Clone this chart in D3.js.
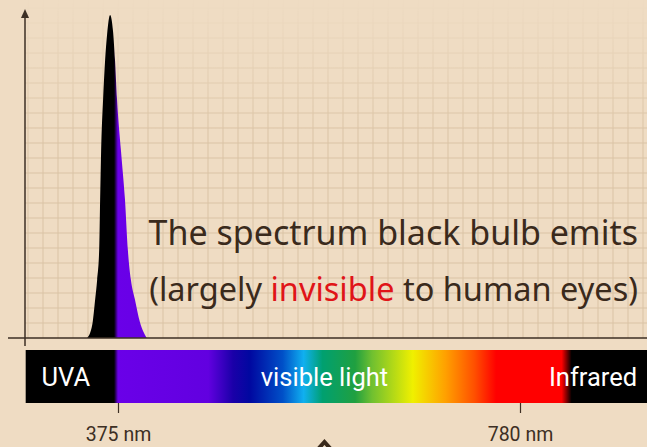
<!DOCTYPE html>
<html lang="en">
<head>
<meta charset="utf-8">
<style>
    html, body { margin: 0; padding: 0; background: #efdcc3; overflow: hidden; }
    svg { display: block; }
</style>
<script src="https://cdn.jsdelivr.net/npm/d3@7"></script>
</head>
<body>
<script>
    // emission curve of the black bulb (wavelength in nm, relative intensity)
    const peakNm = [344, 349, 352, 354, 356, 357, 358, 360, 362, 364, 367, 370, 372, 374, 378, 382, 385, 388, 392, 397, 404];
    const peakValue = [0, 0.04, 0.12, 0.18, 0.27, 0.43, 0.58, 0.74, 0.86, 0.94, 1.0, 0.95, 0.86, 0.74, 0.58, 0.43, 0.27, 0.18, 0.12, 0.05, 0];

    // colour band under the chart
    const spectrumNm = [371, 375, 466, 491, 508, 541, 562, 581, 614, 631, 672, 705, 734, 756, 822, 832];
    const spectrumColor = ["#000000", "#6a00e8", "#6200e0", "#1a00a8", "#0008a0", "#0050c8", "#10b0f0", "#00a070",
                           "#20a040", "#70c030", "#f0f000", "#ffa000", "#ff5000", "#ff0000", "#ff0000", "#000000"];
    const bandNm = [282, 908];

    const tickNm = [375, 780];
    const bandLabels = [
        {text: "UVA", nm: 298, anchor: "start"},
        {text: "visible light", nm: 583, anchor: "middle"},
        {text: "Infrared", nm: 898, anchor: "end"}
    ];

    let w = 647, h = 447;
    let ink = "#3d2f24";

    let svg = d3.select("body").append("svg")
        .attr("width", w)
        .attr("height", h);

    let x = d3.scaleLinear().domain([375, 780]).range([118, 520]);
    let y = d3.scaleLinear().domain([0, 1]).range([338, 15]);

    let defs = svg.append("defs");

    let grad = defs.append("linearGradient")
        .attr("id", "spec")
        .attr("gradientUnits", "userSpaceOnUse")
        .attr("x1", x(bandNm[0])).attr("x2", x(bandNm[1]))
        .attr("y1", 0).attr("y2", 0);
    grad.selectAll("stop")
        .data(spectrumNm)
        .join("stop")
        .attr("offset", d => (d - bandNm[0]) / (bandNm[1] - bandNm[0]))
        .attr("stop-color", (d, i) => spectrumColor[i]);

    // grid fades out towards the top
    let fade = defs.append("linearGradient")
        .attr("id", "fade")
        .attr("gradientUnits", "userSpaceOnUse")
        .attr("x1", 0).attr("x2", 0).attr("y1", 0).attr("y2", 130);
    fade.append("stop").attr("offset", 0).attr("stop-color", "#000");
    fade.append("stop").attr("offset", 1).attr("stop-color", "#fff");
    defs.append("mask").attr("id", "gridmask")
        .append("rect")
        .attr("x", 0).attr("y", 0).attr("width", w).attr("height", h)
        .attr("fill", "url(#fade)");

    let grid = svg.append("g")
        .attr("mask", "url(#gridmask)")
        .attr("stroke", "#dac3a5")
        .attr("stroke-width", 1);
    grid.selectAll(".v")
        .data(d3.range(x.range()[0] - 6 * 15, w, 15).filter(v => v > 25))
        .join("line")
        .attr("x1", d => d).attr("x2", d => d)
        .attr("y1", 0).attr("y2", y(0));
    grid.selectAll(".hz")
        .data(d3.range(y(0) - 15, 0, -15))
        .join("line")
        .attr("x1", 25).attr("x2", w)
        .attr("y1", d => d).attr("y2", d => d);

    // emission peak
    let area = d3.area()
        .x(d => x(d[0]))
        .y0(y(0))
        .y1(d => y(d[1]))
        .curve(d3.curveMonotoneX);
    svg.append("path")
        .datum(peakNm.map((d, i) => [d, peakValue[i]]))
        .attr("d", area)
        .attr("fill", "url(#spec)");

    // axes
    svg.append("line")
        .attr("x1", 8).attr("x2", w)
        .attr("y1", y(0)).attr("y2", y(0))
        .attr("stroke", ink).attr("stroke-width", 1.5);
    svg.append("line")
        .attr("x1", 25).attr("x2", 25)
        .attr("y1", y(0) + 8).attr("y2", 16)
        .attr("stroke", ink).attr("stroke-width", 1.5);
    svg.append("path")
        .attr("d", "M25,9 L21,18 L29,18 Z")
        .attr("fill", ink);

    // annotation
    let note = svg.append("g")
        .attr("font-family", "'Noto Sans', 'Open Sans', sans-serif")
        .attr("fill", "#3a2a1c")
        .attr("text-anchor", "end");
    note.append("text")
        .attr("x", 638).attr("y", 245)
        .attr("font-size", 34)
        .text("The spectrum black bulb emits");
    let line2 = note.append("text")
        .attr("x", 638).attr("y", 301)
        .attr("font-size", 32.5);
    line2.append("tspan").text("(largely ");
    line2.append("tspan").attr("fill", "#e01418").text("invisible");
    line2.append("tspan").text(" to human eyes)");

    // spectrum band
    svg.append("rect")
        .attr("x", x(bandNm[0])).attr("y", 350)
        .attr("width", x(bandNm[1]) - x(bandNm[0]))
        .attr("height", 53)
        .attr("fill", "url(#spec)");

    svg.append("g")
        .selectAll("text")
        .data(bandLabels)
        .join("text")
        .attr("x", d => x(d.nm))
        .attr("y", 386)
        .attr("text-anchor", d => d.anchor)
        .attr("font-family", "Roboto, sans-serif")
        .attr("font-size", 25.5)
        .attr("fill", "#fff")
        .text(d => d.text);

    let axis = svg.append("g")
        .attr("transform", "translate(0,403)")
        .call(d3.axisBottom(x).tickValues(tickNm).tickFormat(d => d + " nm").tickSize(10).tickPadding(14));
    axis.select(".domain").remove();
    axis.selectAll("line").attr("stroke", ink).attr("stroke-width", 1.2);
    axis.selectAll("text")
        .attr("font-family", "Roboto, sans-serif")
        .attr("font-size", 19.5)
        .attr("fill", ink);

    // little marker under the band
    svg.append("path")
        .attr("d", `M${x(583) - 9},452 L${x(583)},442 L${x(583) + 9},452`)
        .attr("fill", "none")
        .attr("stroke", "#3a2a1c")
        .attr("stroke-width", 4);
</script>
</body>
</html>
